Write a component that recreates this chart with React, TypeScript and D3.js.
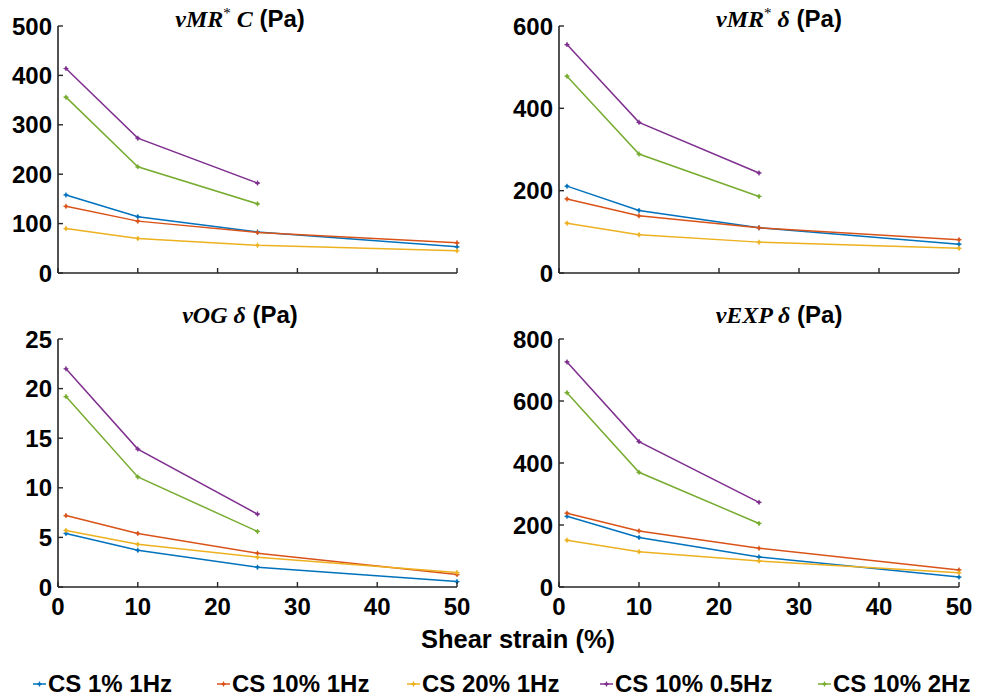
import React from "react";
import * as d3 from "d3";

// ---------- data ----------
const strains = [1, 10, 25, 50];
const seriesNames = ["CS 1% 1Hz", "CS 10% 1Hz", "CS 20% 1Hz", "CS 10% 0.5Hz", "CS 10% 2Hz"];
const seriesColors = ["#0072BD", "#D95319", "#EDB120", "#7E2F8E", "#77AC30"];

// order: CS 1% 1Hz, CS 10% 1Hz, CS 20% 1Hz, CS 10% 0.5Hz, CS 10% 2Hz
const vmrCValues = [
  [158, 114, 83, 53],
  [135, 105, 82, 61],
  [90, 70, 56, 45],
  [414, 273, 182],
  [356, 215, 140],
];
const vmrDeltaValues = [
  [211, 152, 110, 70],
  [180, 139, 110, 81],
  [121, 93, 75, 60],
  [555, 366, 243],
  [478, 289, 186],
];
const vogDeltaValues = [
  [5.4, 3.7, 2.0, 0.55],
  [7.2, 5.4, 3.4, 1.25],
  [5.7, 4.3, 3.0, 1.45],
  [22.0, 13.9, 7.35],
  [19.2, 11.1, 5.6],
];
const vexpDeltaValues = [
  [228, 160, 97, 32],
  [238, 181, 125, 55],
  [151, 114, 84, 46],
  [726, 469, 273],
  [627, 370, 205],
];

const xTicks = [0, 10, 20, 30, 40, 50];
const vmrCTicks = [0, 100, 200, 300, 400, 500];
const vmrDeltaTicks = [0, 200, 400, 600];
const vogDeltaTicks = [0, 5, 10, 15, 20, 25];
const vexpDeltaTicks = [0, 200, 400, 600, 800];

const xAxisLabel = "Shear strain (%)";

// ---------- layout ----------
const W = 987;
const H = 697;
const AXIS = "#262626";
const SANS = "'Liberation Sans', Arial, sans-serif";
const SERIF = "'Liberation Serif', 'Times New Roman', serif";

type Panel = {
  math: string;
  sup: boolean;
  sym: string;
  values: number[][];
  ticks: number[];
  left: number;
  right: number;
  top: number;
  bottom: number;
  showXLabels: boolean;
  titleX: number;
  titleY: number;
};

const panels: Panel[] = [
  { math: "vMR", sup: true, sym: "C", values: vmrCValues, ticks: vmrCTicks, left: 58, right: 457, top: 26, bottom: 273, showXLabels: false, titleX: 240, titleY: 27 },
  { math: "vMR", sup: true, sym: "δ", values: vmrDeltaValues, ticks: vmrDeltaTicks, left: 559, right: 959, top: 26, bottom: 273, showXLabels: false, titleX: 779, titleY: 27 },
  { math: "vOG", sup: false, sym: "δ", values: vogDeltaValues, ticks: vogDeltaTicks, left: 58, right: 457, top: 339, bottom: 587, showXLabels: true, titleX: 240, titleY: 323 },
  { math: "vEXP", sup: false, sym: "δ", values: vexpDeltaValues, ticks: vexpDeltaTicks, left: 559, right: 959, top: 339, bottom: 587, showXLabels: true, titleX: 779, titleY: 323 },
];

const legendX = [33, 217, 407, 600, 818];
const legendY = 684;

function Marker({ x, y, color }: { x: number; y: number; color: string }) {
  return (
    <g>
      <circle cx={x} cy={y} r={1.6} fill={color} />
      <path d={`M${x - 2.5},${y}H${x + 2.5}M${x},${y - 2.5}V${y + 2.5}`} stroke={color} strokeWidth={1.2} />
    </g>
  );
}

function PanelView({ p }: { p: Panel }) {
  const x = d3.scaleLinear().domain([0, 50]).range([p.left, p.right]);
  const yMax = p.ticks[p.ticks.length - 1];
  const y = d3.scaleLinear().domain([0, yMax]).range([p.bottom, p.top]);
  const line = d3
    .line<number>()
    .x((_, i) => x(strains[i]))
    .y((d) => y(d));

  return (
    <g>
      {/* title */}
      <text x={p.titleX} y={p.titleY} textAnchor="middle" fontSize={24} fill="#000">
        <tspan fontFamily={SERIF} fontStyle="italic" fontWeight="bold" fontSize={24}>{p.math}</tspan>
        {p.sup ? (
          <tspan fontFamily={SERIF} fontSize={15} dy={-9}>*</tspan>
        ) : null}
        <tspan fontFamily={SERIF} fontStyle="italic" fontWeight="bold" fontSize={24} dy={p.sup ? 9 : 0}>{" " + p.sym}</tspan>
        <tspan fontFamily={SANS} fontWeight="bold">{" (Pa)"}</tspan>
      </text>

      {/* series */}
      {p.values.map((vals, si) => (
        <g key={si}>
          <path d={line(vals) || ""} fill="none" stroke={seriesColors[si]} strokeWidth={1.5} />
          {vals.map((v, i) => (
            <Marker key={i} x={x(strains[i])} y={y(v)} color={seriesColors[si]} />
          ))}
        </g>
      ))}

      {/* axes */}
      <line x1={p.left} x2={p.left} y1={p.top} y2={p.bottom} stroke={AXIS} strokeWidth={1.6} />
      <line x1={p.left} x2={p.right} y1={p.bottom} y2={p.bottom} stroke={AXIS} strokeWidth={1.6} />
      {p.ticks.map((t) => (
        <g key={"y" + t}>
          <line x1={p.left} x2={p.left + 5} y1={y(t)} y2={y(t)} stroke={AXIS} strokeWidth={1.4} />
          <text x={p.left - 6} y={y(t)} dy="0.36em" textAnchor="end" fontFamily={SANS} fontWeight="bold" fontSize={24} fill="#000">
            {t}
          </text>
        </g>
      ))}
      {xTicks.map((t) => (
        <g key={"x" + t}>
          <line x1={x(t)} x2={x(t)} y1={p.bottom} y2={p.bottom - 5} stroke={AXIS} strokeWidth={1.4} />
          {p.showXLabels ? (
            <text x={x(t)} y={p.bottom + 28} textAnchor="middle" fontFamily={SANS} fontWeight="bold" fontSize={24} fill="#000">
              {t}
            </text>
          ) : null}
        </g>
      ))}
    </g>
  );
}

export default function App() {
  return (
    <svg width={W} height={H} style={{ position: "absolute", left: 0, top: 0, background: "#fff" }}>
      <rect width={W} height={H} fill="#fff" />
      {panels.map((p, i) => (
        <PanelView key={i} p={p} />
      ))}
      <text x={518} y={648} textAnchor="middle" fontFamily={SANS} fontWeight="bold" fontSize={25.5} fill="#000">
        {xAxisLabel}
      </text>
      {seriesNames.map((name, i) => (
        <g key={name}>
          <line x1={legendX[i]} x2={legendX[i] + 13} y1={legendY} y2={legendY} stroke={seriesColors[i]} strokeWidth={1.5} />
          <Marker x={legendX[i] + 6.5} y={legendY} color={seriesColors[i]} />
          <text x={legendX[i] + 15} y={legendY + 8} fontFamily={SANS} fontWeight="bold" fontSize={24} fill="#000">
            {name}
          </text>
        </g>
      ))}
    </svg>
  );
}
